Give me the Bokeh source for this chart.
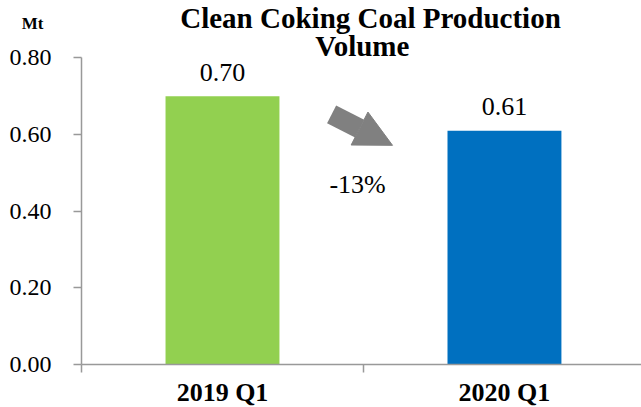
from bokeh.plotting import figure
from bokeh.models import (Range1d, FixedTicker, NumeralTickFormatter, Label,
                          Arrow, NormalHead, ColumnDataSource)
from bokeh.core.properties import value
from bokeh.embed import file_html
from bokeh.resources import INLINE

# ---- data ----
categories = ["2019 Q1", "2020 Q1"]
volumes = [0.70, 0.61]
value_labels = ["0.70", "0.61"]
bar_colors = ["#92D050", "#0070C0"]
change_label = "-13%"
y_ticks = [0.0, 0.2, 0.4, 0.6, 0.8]
title_lines = ["Clean Coking Coal Production", "Volume"]
unit_label = "Mt"

SERIF = "Liberation Serif"
AXIS_GRAY = "#999999"

xs = [i + 0.5 for i in range(len(categories))]

p = figure(frame_width=560, frame_height=364, output_backend="svg",
           toolbar_location=None,
           x_range=Range1d(0, 1.986), y_range=Range1d(0, 0.95),
           min_border_left=81, min_border_right=0, min_border_top=0,
           min_border_bottom=43)
p.outline_line_color = None
p.xgrid.visible = False
p.ygrid.visible = False
p.background_fill_color = "white"
p.border_fill_color = "white"

src = ColumnDataSource(dict(x=xs, top=volumes, color=bar_colors, lab=value_labels))
p.vbar(x="x", top="top", width=0.404, color="color", line_color=None, source=src)
p.text(x="x", y="top", text="lab", source=src, text_align="center",
       text_baseline="alphabetic", y_offset=-24,
       text_font=value(SERIF), text_font_size="26px", text_color="black")

# y axis
ya = p.yaxis[0]
ya.ticker = FixedTicker(ticks=y_ticks)
ya.formatter = NumeralTickFormatter(format="0.00")
ya.bounds = (0, 0.8)
ya.axis_line_color = AXIS_GRAY
ya.axis_line_width = 1.5
ya.major_tick_line_color = AXIS_GRAY
ya.major_tick_line_width = 1.5
ya.major_tick_out = 8
ya.major_tick_in = 0
ya.minor_tick_line_color = None
ya.major_label_standoff = 22
ya.major_label_text_font = SERIF
ya.major_label_text_font_size = "24px"
ya.major_label_text_color = "black"
# unit label at the top of the value axis
ya.axis_label = "\n\n" + unit_label
ya.axis_label_orientation = "horizontal"
ya.axis_label_standoff = -37
ya.axis_label_text_font = SERIF
ya.axis_label_text_font_style = "bold"
ya.axis_label_text_font_size = "17px"
ya.axis_label_text_color = "black"
try:
    ya.axis_label_align = "end"
except Exception:
    pass

# x axis
xa = p.xaxis[0]
xa.ticker = FixedTicker(ticks=xs, minor_ticks=[0, 1, 2])
xa.major_label_overrides = {x: c for x, c in zip(xs, categories)}
xa.axis_line_color = AXIS_GRAY
xa.axis_line_width = 1.5
xa.major_tick_line_color = None
xa.major_tick_out = 8
xa.major_tick_in = 0
xa.minor_tick_line_color = AXIS_GRAY
xa.minor_tick_line_width = 1.5
xa.minor_tick_out = 8
xa.minor_tick_in = 0
xa.major_label_standoff = 5
xa.major_label_text_font = SERIF
xa.major_label_text_font_style = "bold"
xa.major_label_text_font_size = "26px"
xa.major_label_text_color = "black"

# change arrow between the bars
p.add_layout(Arrow(x_start=0.887, y_start=0.653, x_end=1.103, y_end=0.572,
                   line_color="#808080", line_width=20, line_cap="butt",
                   end=NormalHead(size=37, fill_color="#808080", line_color="#808080",
                                  line_width=1)))
p.add_layout(Label(x=0.979, y=0.47, text=change_label, text_align="center",
                   text_baseline="middle", text_font=SERIF, text_font_size="26px",
                   text_color="black"))

# title
p.add_layout(Label(x=1.025, y=0.905, text=title_lines[0], text_align="center",
                   text_baseline="alphabetic", text_font=SERIF,
                   text_font_style="bold", text_font_size="29px", text_color="black"))
p.add_layout(Label(x=0.996, y=0.831, text=title_lines[1], text_align="center",
                   text_baseline="alphabetic", text_font=SERIF,
                   text_font_style="bold", text_font_size="29px", text_color="black"))

open("out.html", "w").write(file_html(p, INLINE))
